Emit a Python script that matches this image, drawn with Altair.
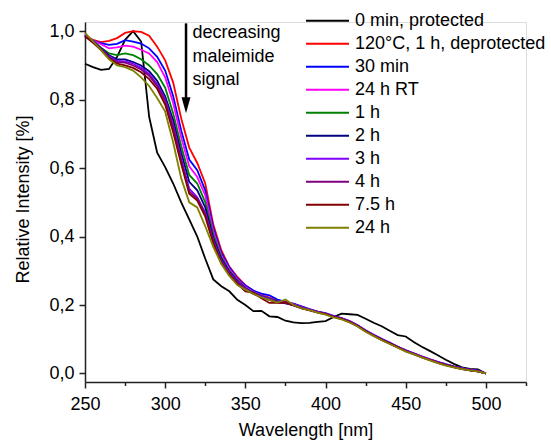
import altair as alt
import pandas as pd

FONT = "Liberation Sans"

wavelength = [250, 255, 260, 265, 270, 275, 280, 285, 290, 295, 300, 305, 310, 315, 320, 325,
              330, 335, 340, 345, 350, 355, 360, 365, 370, 375, 380, 385, 390, 395, 400, 405,
              410, 415, 420, 425, 430, 435, 440, 445, 450, 455, 460, 465, 470, 475, 480, 485,
              490, 495, 500]

series_names = ["0 min, protected", "120°C, 1 h, deprotected", "30 min", "24 h RT",
                "1 h", "2 h", "3 h", "4 h", "7.5 h", "24 h"]
series_colors = ["#000000", "#FF0000", "#0000FF", "#FF00FF", "#008000",
                 "#000080", "#8000FF", "#800080", "#800000", "#808000"]

s_protected = [0.905, 0.895, 0.887, 0.89, 0.925, 0.975, 1.0, 0.97, 0.75, 0.645, 0.603, 0.555,
               0.50, 0.45, 0.40, 0.335, 0.275, 0.255, 0.24, 0.215, 0.20, 0.182, 0.183, 0.167,
               0.165, 0.154, 0.149, 0.147, 0.148, 0.151, 0.153, 0.165, 0.175, 0.173, 0.171, 0.16,
               0.148, 0.138, 0.125, 0.112, 0.108, 0.092, 0.078, 0.066, 0.053, 0.040, 0.028, 0.018,
               0.013, 0.012, 0.0]
s_deprotected = [0.985, 0.975, 0.968, 0.972, 0.98, 0.995, 1.0, 0.998, 0.987, 0.955, 0.915, 0.85,
                 0.745, 0.66, 0.615, 0.555, 0.435, 0.36, 0.312, 0.282, 0.258, 0.242, 0.23, 0.222,
                 0.213, 0.207, 0.203, 0.195, 0.187, 0.180, 0.174, 0.166, 0.161, 0.152, 0.140, 0.125,
                 0.112, 0.100, 0.089, 0.077, 0.067, 0.058, 0.049, 0.040, 0.033, 0.026, 0.020, 0.014,
                 0.010, 0.006, 0.0]
s_30min = [0.985, 0.973, 0.965, 0.96, 0.963, 0.974, 0.97, 0.964, 0.95, 0.925, 0.885, 0.81,
           0.71, 0.625, 0.594, 0.535, 0.425, 0.352, 0.31, 0.278, 0.257, 0.242, 0.233, 0.228,
           0.216, 0.209, 0.204, 0.196, 0.188, 0.181, 0.176, 0.168, 0.162, 0.153, 0.141, 0.126,
           0.113, 0.101, 0.090, 0.078, 0.068, 0.059, 0.050, 0.041, 0.034, 0.027, 0.021, 0.016,
           0.011, 0.008, 0.0]
s_24hRT = [0.99, 0.973, 0.962, 0.95, 0.953, 0.958, 0.955, 0.946, 0.935, 0.91, 0.865, 0.79,
           0.69, 0.605, 0.574, 0.52, 0.415, 0.345, 0.305, 0.275, 0.253, 0.238, 0.228, 0.22,
           0.21, 0.21, 0.202, 0.194, 0.187, 0.181, 0.175, 0.167, 0.161, 0.152, 0.140, 0.125,
           0.112, 0.100, 0.089, 0.078, 0.067, 0.058, 0.049, 0.041, 0.033, 0.026, 0.020, 0.015,
           0.010, 0.007, 0.0]
s_1h = [0.99, 0.972, 0.952, 0.935, 0.93, 0.935, 0.93, 0.918, 0.9, 0.875, 0.835, 0.76,
        0.665, 0.58, 0.555, 0.5, 0.405, 0.34, 0.3, 0.272, 0.25, 0.236, 0.227, 0.219,
        0.21, 0.206, 0.2, 0.193, 0.186, 0.18, 0.174, 0.166, 0.16, 0.151, 0.139, 0.124,
        0.111, 0.099, 0.088, 0.077, 0.066, 0.057, 0.048, 0.04, 0.032, 0.025, 0.019, 0.014,
        0.01, 0.006, 0.0]
s_2h = [0.988, 0.97, 0.95, 0.93, 0.918, 0.918, 0.91, 0.9, 0.883, 0.855, 0.81, 0.74,
        0.645, 0.56, 0.535, 0.485, 0.395, 0.335, 0.297, 0.27, 0.249, 0.235, 0.226, 0.218,
        0.209, 0.205, 0.2, 0.192, 0.186, 0.18, 0.174, 0.166, 0.16, 0.151, 0.139, 0.124,
        0.111, 0.099, 0.088, 0.077, 0.066, 0.057, 0.048, 0.04, 0.032, 0.025, 0.019, 0.014,
        0.009, 0.006, 0.0]
s_3h = [0.99, 0.97, 0.948, 0.926, 0.913, 0.912, 0.905, 0.893, 0.875, 0.845, 0.80, 0.725,
        0.628, 0.54, 0.515, 0.47, 0.388, 0.33, 0.294, 0.268, 0.248, 0.234, 0.225, 0.217,
        0.208, 0.207, 0.2, 0.192, 0.186, 0.18, 0.175, 0.167, 0.161, 0.152, 0.14, 0.125,
        0.112, 0.1, 0.089, 0.078, 0.067, 0.058, 0.049, 0.041, 0.033, 0.026, 0.02, 0.015,
        0.011, 0.008, 0.0]
s_4h = [0.985, 0.968, 0.947, 0.924, 0.91, 0.908, 0.9, 0.888, 0.87, 0.84, 0.795, 0.718,
        0.62, 0.532, 0.51, 0.465, 0.385, 0.328, 0.292, 0.266, 0.246, 0.232, 0.223, 0.215,
        0.207, 0.209, 0.199, 0.191, 0.185, 0.179, 0.174, 0.166, 0.16, 0.151, 0.139, 0.124,
        0.111, 0.099, 0.088, 0.077, 0.066, 0.057, 0.048, 0.04, 0.032, 0.025, 0.019, 0.014,
        0.01, 0.007, 0.0]
s_7_5h = [0.985, 0.966, 0.945, 0.92, 0.905, 0.9, 0.893, 0.88, 0.86, 0.832, 0.785, 0.705,
          0.612, 0.525, 0.505, 0.458, 0.38, 0.322, 0.288, 0.262, 0.24, 0.236, 0.22, 0.206,
          0.206, 0.207, 0.199, 0.19, 0.184, 0.178, 0.173, 0.165, 0.159, 0.15, 0.138, 0.123,
          0.11, 0.098, 0.087, 0.076, 0.065, 0.056, 0.047, 0.039, 0.031, 0.024, 0.018, 0.013,
          0.009, 0.006, 0.0]
s_24h = [0.995, 0.97, 0.945, 0.918, 0.9, 0.895, 0.885, 0.865, 0.84, 0.805, 0.765, 0.675,
         0.57, 0.5, 0.485, 0.43, 0.37, 0.32, 0.285, 0.258, 0.245, 0.233, 0.222, 0.215,
         0.207, 0.216, 0.2, 0.19, 0.185, 0.178, 0.172, 0.164, 0.158, 0.149, 0.137, 0.122,
         0.109, 0.097, 0.086, 0.075, 0.064, 0.056, 0.047, 0.038, 0.03, 0.023, 0.018, 0.013,
         0.009, 0.006, 0.0]

series_values = [s_protected, s_deprotected, s_30min, s_24hRT, s_1h, s_2h, s_3h, s_4h, s_7_5h, s_24h]

x_ticks = [250, 275, 300, 325, 350, 375, 400, 425, 450, 475, 500, 525]
y_ticks = [0.0, 0.1, 0.2, 0.3, 0.4, 0.5, 0.6, 0.7, 0.8, 0.9, 1.0]

annot_lines = ["decreasing", "maleimide", "signal"]
annot_y = [0.9795, 0.911, 0.842]
annot_x = 317
arrow_x = 313
arrow_top = 1.023
arrow_base = 0.80
arrow_head_center = 0.784

rows = []
for k, (name, vals) in enumerate(zip(series_names, series_values)):
    for w, v in zip(wavelength, vals):
        rows.append({"wl": w, "val": v, "series": name, "k": k})
df = pd.DataFrame(rows)

x_scale = alt.Scale(domain=[250, 525], nice=False, zero=False)
y_scale = alt.Scale(domain=[-0.025, 1.027], nice=False, zero=False)

AX = "#222222"
x_axis = alt.Axis(
    values=x_ticks,
    labelExpr="datum.value % 50 == 0 ? datum.label : ''",
    tickSize={"condition": {"test": "datum.value % 50 == 0", "value": 6}, "value": 3.5},
    labelPadding=7, labelFlush=False, labelOverlap=False,
    labelFont=FONT, labelFontSize=18, labelColor="#000000",
    title="Wavelength [nm]", titleFont=FONT, titleFontSize=18, titleFontWeight="normal",
    titleColor="#000000", titleX=220.5, titleY=53, titleBaseline="alphabetic",
    domainColor=AX, domainWidth=1.5, tickColor=AX, tickWidth=1.5, grid=False,
)
y_axis = alt.Axis(
    values=y_ticks,
    labelExpr="round(datum.value * 10) % 2 == 0 ? replace(format(datum.value, '.1f'), '.', ',') : ''",
    tickSize={"condition": {"test": "round(datum.value * 10) % 2 == 0", "value": 6}, "value": 3.5},
    labelPadding=5, labelFlush=False, labelOverlap=False,
    labelFont=FONT, labelFontSize=18, labelColor="#000000",
    title="Relative Intensity [%]", titleFont=FONT, titleFontSize=18, titleFontWeight="normal",
    titleColor="#000000", titleX=-57, titleY=177, titleBaseline="alphabetic", titleAngle=-90,
    domainColor=AX, domainWidth=1.5, tickColor=AX, tickWidth=1.5, grid=False,
)

lines = alt.Chart(df).mark_line(strokeWidth=1.8).encode(
    x=alt.X("wl:Q", scale=x_scale, axis=x_axis),
    y=alt.Y("val:Q", scale=y_scale, axis=y_axis),
    color=alt.Color(
        "series:N",
        scale=alt.Scale(domain=series_names, range=series_colors),
        legend=alt.Legend(
            title=None, orient="none", legendX=220, legendY=-12.5,
            symbolType="stroke", symbolSize=1849, symbolStrokeWidth=2,
            clipHeight=22.6, rowPadding=0, labelOffset=5,
            labelFont=FONT, labelFontSize=18, labelColor="#000000", labelLimit=400,
        ),
    ),
    order=alt.Order("wl:Q"),
)

arrow_df = pd.DataFrame({"x": [arrow_x], "y": [arrow_top], "y2": [arrow_base], "yh": [arrow_head_center]})
shaft = alt.Chart(arrow_df).mark_rule(strokeWidth=2.5, color="#000000").encode(
    x=alt.X("x:Q", scale=x_scale), y=alt.Y("y:Q", scale=y_scale), y2="y2:Q"
)
head = alt.Chart(arrow_df).mark_point(
    shape="M-0.56,-1L0.56,-1L0,1Z", size=256, filled=True, color="#000000", opacity=1, strokeWidth=0
).encode(x=alt.X("x:Q", scale=x_scale), y=alt.Y("yh:Q", scale=y_scale))

text_df = pd.DataFrame({"x": [annot_x] * 3, "y": annot_y, "t": annot_lines})
texts = alt.Chart(text_df).mark_text(
    align="left", baseline="alphabetic", font=FONT, fontSize=18, color="#000000"
).encode(x=alt.X("x:Q", scale=x_scale), y=alt.Y("y:Q", scale=y_scale), text="t:N")

chart = alt.layer(lines, shaft, head, texts).properties(
    width=441, height=360,
    autosize=alt.AutoSizeParams(type="none"),
    padding={"left": 85, "top": 22, "right": 25, "bottom": 58},
).configure_view(stroke=None).configure(background="#ffffff")

chart.save("out.html", embed_options={"renderer": "svg", "actions": False})
